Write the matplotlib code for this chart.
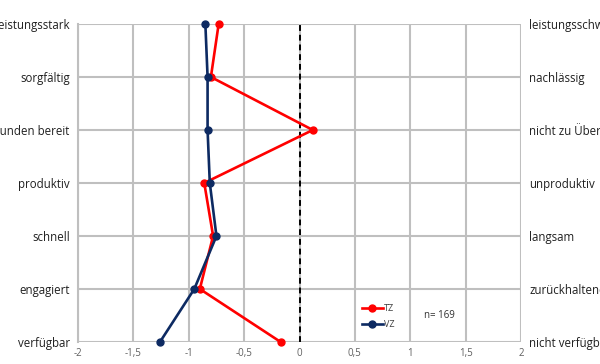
import matplotlib.pyplot as plt
import numpy as np

plt.rcParams["font.family"] = ["Open Sans", "DejaVu Sans"]

# data
left_labels = ["leistungsstark", "sorgfältig", "zu Überstunden bereit", "produktiv",
               "schnell", "engagiert", "verfügbar"]
right_labels = ["leistungsschwach", "nachlässig", "nicht zu Überstunden bereit", "unproduktiv",
                "langsam", "zurückhaltend", "nicht verfügbar"]
tz = [-0.73, -0.80, 0.12, -0.86, -0.78, -0.90, -0.17]
vz = [-0.85, -0.83, -0.83, -0.81, -0.75, -0.95, -1.26]
n_text = "n= 169"

grid_c = "#bfbfbf"
ypos = np.arange(len(left_labels))

fig = plt.figure(figsize=(6.0, 3.64), dpi=100)
ax = fig.add_axes([78 / 600, 22 / 364, 443 / 600, 318 / 364])

ax.set_xlim(-2, 2)
ax.set_ylim(len(left_labels) - 1, 0)
ax.set_xticks(np.arange(-2, 2.01, 0.5))
ax.set_xticklabels([f"{v:g}".replace(".", ",") for v in np.arange(-2, 2.01, 0.5)])
ax.set_yticks(ypos)
ax.set_yticklabels(left_labels)

ax.grid(True, color=grid_c, linewidth=1.5)
ax.set_axisbelow(True)
for s in ax.spines.values():
    s.set_visible(False)
ax.spines["left"].set_visible(True)
ax.spines["left"].set_color(grid_c)
ax.spines["left"].set_linewidth(1.5)
ax.tick_params(axis="x", length=0, labelsize=7, labelcolor="#606060", pad=4)
ax.tick_params(axis="y", length=0, labelsize=8.3, labelcolor="#202020", pad=6)

ax.axvline(0, color="black", linestyle=(0, (3, 2)), linewidth=1.4, zorder=2)

ax.plot(tz, ypos, color="#ff0000", marker="o", markersize=5, linewidth=1.9, label="TZ", zorder=3, clip_on=False)
ax.plot(vz, ypos, color="#0d2a62", marker="o", markersize=5, linewidth=1.9, label="VZ", zorder=4, clip_on=False)

ax2 = ax.twinx()
ax2.set_ylim(ax.get_ylim())
ax2.set_yticks(ypos)
ax2.set_yticklabels(right_labels)
ax2.tick_params(axis="y", length=0, labelsize=8.3, labelcolor="#202020", pad=6)
for s in ax2.spines.values():
    s.set_visible(False)

leg = ax.legend(loc="center left", bbox_to_anchor=(0.64, 0.08), frameon=False, fontsize=6.5,
                handlelength=2.4, labelspacing=0.75, handletextpad=0.1, borderpad=0.0,
                borderaxespad=0.0)
for t in leg.get_texts():
    t.set_color("#404040")
ax.text(1.12, 5.5, n_text, fontsize=7, color="#303030", va="center", ha="left")

fig.savefig("out.png", dpi=100)
